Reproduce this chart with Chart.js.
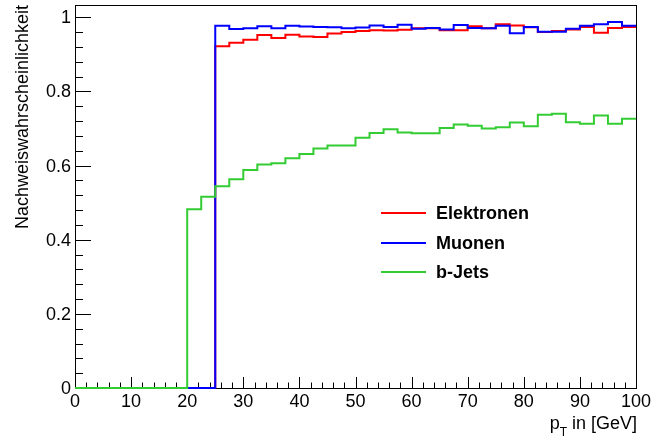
<!DOCTYPE html>
<html>
<head>
<meta charset="utf-8">
<script src="https://cdn.jsdelivr.net/npm/chart.js@4/dist/chart.umd.min.js"></script>
<style>
  html, body { margin: 0; padding: 0; background: #fff; }
  canvas { display: block; }
</style>
</head>
<body>
<canvas id="eff-chart" width="651" height="439"></canvas>
<script>
// bin edges in GeV (40 bins, 2.5 GeV wide)
const binEdges = [0, 2.5, 5, 7.5, 10, 12.5, 15, 17.5, 20, 22.5, 25, 27.5, 30, 32.5, 35, 37.5,
    40, 42.5, 45, 47.5, 50, 52.5, 55, 57.5, 60, 62.5, 65, 67.5, 70, 72.5, 75, 77.5,
    80, 82.5, 85, 87.5, 90, 92.5, 95, 97.5, 100];

const elektronen = [0, 0, 0, 0, 0, 0, 0, 0, 0, 0,
    0.922, 0.931, 0.939, 0.952, 0.944, 0.953, 0.948, 0.947, 0.956, 0.960,
    0.963, 0.965, 0.964, 0.966, 0.970, 0.970, 0.965, 0.965, 0.976, 0.970,
    0.981, 0.978, 0.973, 0.960, 0.963, 0.967, 0.974, 0.958, 0.971, 0.974];

const muonen = [0, 0, 0, 0, 0, 0, 0, 0, 0, 0,
    0.977, 0.968, 0.970, 0.976, 0.970, 0.977, 0.975, 0.974, 0.973, 0.970,
    0.972, 0.978, 0.974, 0.980, 0.969, 0.971, 0.967, 0.979, 0.971, 0.970,
    0.977, 0.957, 0.974, 0.961, 0.961, 0.969, 0.977, 0.981, 0.987, 0.977];

const bJets = [0, 0, 0, 0, 0, 0, 0, 0,
    0.482, 0.516, 0.544, 0.563, 0.588, 0.603, 0.606, 0.620, 0.631, 0.646,
    0.654, 0.654, 0.675, 0.688, 0.698, 0.689, 0.687, 0.687, 0.701, 0.711,
    0.707, 0.700, 0.703, 0.716, 0.706, 0.737, 0.740, 0.717, 0.713, 0.735,
    0.713, 0.726];

const xTickLabels = ['0', '10', '20', '30', '40', '50', '60', '70', '80', '90', '100'];
const yTickLabels = ['0', '0.2', '0.4', '0.6', '0.8', '1'];

const FONT = '"Liberation Sans", Arial, Helvetica, sans-serif';

// histogram outline: one point per lower bin edge, last edge repeats the last bin
function toSteps(values) {
    const pts = values.map((v, i) => ({ x: binEdges[i], y: v }));
    pts.push({ x: binEdges[values.length], y: values[values.length - 1] });
    return pts;
}

// ROOT-like frame, inward ticks, labels and titles (drawn under the histograms)
const rootFrame = {
    id: 'rootFrame',
    beforeDatasetsDraw(chart) {
        const ctx = chart.ctx;
        const area = chart.chartArea;
        const xs = chart.scales.x;
        const ys = chart.scales.y;

        ctx.save();
        ctx.strokeStyle = '#000';
        ctx.fillStyle = '#000';
        ctx.lineWidth = 1;

        // frame
        ctx.strokeRect(Math.round(area.left) + 0.5, Math.round(area.top) + 0.5,
            Math.round(area.right - area.left), Math.round(area.bottom - area.top));

        // x ticks
        ctx.beginPath();
        for (let v = 0; v <= 100; v += 2) {
            const px = Math.round(xs.getPixelForValue(v)) + 0.5;
            const len = v % 10 === 0 ? 11 : 5.5;
            ctx.moveTo(px, area.bottom);
            ctx.lineTo(px, area.bottom - len);
        }
        // y ticks
        for (let k = 0; k <= 25; k++) {
            const py = Math.round(ys.getPixelForValue(k * 0.04)) + 0.5;
            const len = k % 5 === 0 ? 16 : 8;
            ctx.moveTo(area.left, py);
            ctx.lineTo(area.left + len, py);
        }
        ctx.stroke();

        // tick labels
        ctx.font = '18px ' + FONT;
        ctx.textAlign = 'center';
        ctx.textBaseline = 'top';
        xTickLabels.forEach(lbl => {
            ctx.fillText(lbl, xs.getPixelForValue(parseFloat(lbl)), area.bottom + 5);
        });
        ctx.textAlign = 'right';
        ctx.textBaseline = 'middle';
        yTickLabels.forEach(lbl => {
            ctx.fillText(lbl, area.left - 4, ys.getPixelForValue(parseFloat(lbl)) + 1);
        });

        // y title
        ctx.save();
        ctx.translate(28, area.top);
        ctx.rotate(-Math.PI / 2);
        ctx.textAlign = 'right';
        ctx.textBaseline = 'alphabetic';
        ctx.fillText('Nachweiswahrscheinlichkeit', 0, 0);
        ctx.restore();

        // x title: p_T in [GeV]
        ctx.textBaseline = 'alphabetic';
        ctx.textAlign = 'right';
        const rest = ' in [GeV]';
        const titleRight = area.right + 1;
        ctx.fillText(rest, titleRight, 429);
        let cx = titleRight - ctx.measureText(rest).width;
        ctx.font = '12px ' + FONT;
        ctx.fillText('T', cx, 436);
        cx -= ctx.measureText('T').width;
        ctx.font = '18px ' + FONT;
        ctx.fillText('p', cx, 429);

        ctx.restore();
    },
    afterDatasetsDraw(chart) {
        const ctx = chart.ctx;
        const legend = [
            { label: 'Elektronen', color: '#ff0000', y: 213 },
            { label: 'Muonen', color: '#0000ff', y: 243 },
            { label: 'b-Jets', color: '#33cc33', y: 272 }
        ];
        ctx.save();
        ctx.font = 'bold 18px ' + FONT;
        ctx.textAlign = 'left';
        ctx.textBaseline = 'middle';
        legend.forEach(item => {
            ctx.strokeStyle = item.color;
            ctx.lineWidth = 2;
            ctx.beginPath();
            ctx.moveTo(381, item.y);
            ctx.lineTo(426, item.y);
            ctx.stroke();
            ctx.fillStyle = '#000';
            ctx.fillText(item.label, 436, item.y + 1);
        });
        ctx.restore();
    }
};

const effChart = new Chart(document.getElementById('eff-chart').getContext('2d'), {
    type: 'line',
    data: {
        datasets: [
            {
                label: 'b-Jets',
                data: toSteps(bJets),
                borderColor: '#33cc33',
                order: 0
            },
            {
                label: 'Muonen',
                data: toSteps(muonen),
                borderColor: '#0000ff',
                order: 1
            },
            {
                label: 'Elektronen',
                data: toSteps(elektronen),
                borderColor: '#ff0000',
                order: 2
            }
        ]
    },
    options: {
        responsive: false,
        animation: false,
        devicePixelRatio: 1,
        layout: {
            padding: { left: 75, top: 5, right: 15, bottom: 51 }
        },
        datasets: {
            line: {
                stepped: true,
                borderWidth: 2,
                pointRadius: 0,
                fill: false,
                clip: 4
            }
        },
        plugins: {
            legend: { display: false },
            tooltip: { enabled: false }
        },
        scales: {
            x: { type: 'linear', min: 0, max: 100, display: false },
            y: { type: 'linear', min: 0, max: 1.033, display: false }
        }
    },
    plugins: [rootFrame]
});
</script>
</body>
</html>
